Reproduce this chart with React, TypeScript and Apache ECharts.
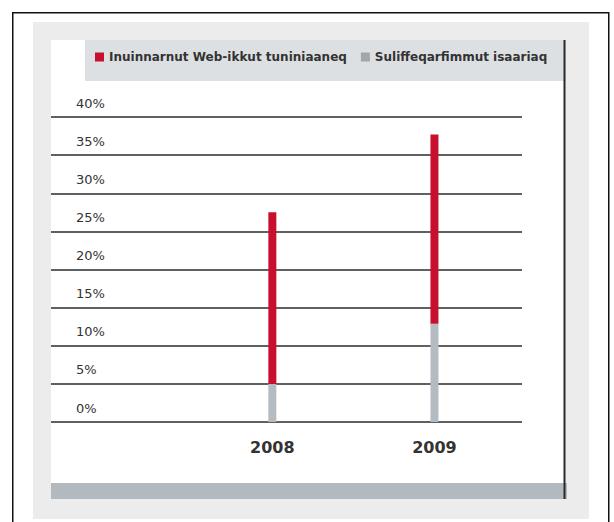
import React, { useEffect, useRef } from 'react';
import * as echarts from 'echarts';

const years = ['2008', '2009'];
const seriesNames = ['Inuinnarnut Web-ikkut tuniniaaneq', 'Suliffeqarfimmut isaariaq'];
const webValues = [22.5, 24.8];
const companyValues = [5, 12.9];
const yMin = 0;
const yMax = 40;
const yStep = 5;

const RED = '#c8102e';
const BAR_GRAY = '#b4bbc1';
const LEGEND_GRAY = '#a3a5a7';

export default function App() {
  const ref = useRef<HTMLDivElement>(null);
  useEffect(() => {
    if (!ref.current) return;
    const chart = echarts.init(ref.current, null, { renderer: 'svg' });
    const option: any = {
      animation: false,
      backgroundColor: '#ffffff',
      graphic: [
        { type: 'rect', z: -100, shape: { x: 12.75, y: 12.75, width: 596, height: 520 }, style: { fill: '#ffffff', stroke: '#111', lineWidth: 1.5 } },
        { type: 'rect', z: -99, shape: { x: 33, y: 22, width: 556, height: 497 }, style: { fill: '#ebeceb' } },
        { type: 'rect', z: -98, shape: { x: 51, y: 40, width: 514, height: 443 }, style: { fill: '#ffffff' } },
        { type: 'rect', z: -97, shape: { x: 85, y: 40, width: 481, height: 41 }, style: { fill: '#dde0e3' } },
        { type: 'rect', z: -97, shape: { x: 51, y: 483, width: 516, height: 16 }, style: { fill: '#b2b9bf' } },
        { type: 'line', z: -96, shape: { x1: 564.5, y1: 40, x2: 564.5, y2: 499 }, style: { stroke: '#2a2a2a', lineWidth: 2 } },
      ],
      legend: {
        left: 95,
        top: 51,
        padding: 0,
        itemWidth: 9,
        itemHeight: 9,
        itemGap: 14,
        icon: 'rect',
        data: [
          { name: seriesNames[0], itemStyle: { color: RED } },
          { name: seriesNames[1], itemStyle: { color: LEGEND_GRAY } },
        ],
        textStyle: { fontFamily: 'DejaVu Sans', fontWeight: 'bold', fontSize: 12, color: '#333' },
      },
      grid: [
        { left: 51, right: 92, top: 117, bottom: 100 },
        { left: 191.3, right: 98.5, top: 117, bottom: 100 },
      ],
      xAxis: [
        {
          gridIndex: 0,
          type: 'value',
          min: 0,
          max: 1,
          show: false,
        },
        {
          gridIndex: 1,
          type: 'category',
          data: years,
          axisLine: { show: false },
          axisTick: { show: false },
          splitLine: { show: false },
          axisLabel: {
            margin: 17,
            fontFamily: 'DejaVu Sans',
            fontWeight: 'bold',
            fontSize: 16,
            color: '#333',
          },
        },
      ],
      yAxis: [
        {
          gridIndex: 0,
          type: 'value',
          min: yMin,
          max: yMax,
          interval: yStep,
          axisLine: { show: false },
          axisTick: { show: false },
          splitLine: { show: true, lineStyle: { color: '#2b2b2b', width: 1.5 } },
          axisLabel: {
            inside: true,
            margin: 25,
            verticalAlign: 'bottom',
            lineHeight: 14,
            padding: [0, 0, 7, 0],
            fontFamily: 'DejaVu Sans',
            fontSize: 13,
            color: '#333',
            formatter: '{value}%',
          },
        },
        {
          gridIndex: 1,
          type: 'value',
          min: yMin,
          max: yMax,
          interval: yStep,
          show: false,
          splitLine: { show: false },
        },
      ],
      series: [
        {
          name: seriesNames[1],
          type: 'bar',
          stack: 'total',
          xAxisIndex: 1,
          yAxisIndex: 1,
          barWidth: 8,
          itemStyle: { color: BAR_GRAY },
          data: companyValues,
        },
        {
          name: seriesNames[0],
          type: 'bar',
          stack: 'total',
          xAxisIndex: 1,
          yAxisIndex: 1,
          barWidth: 8,
          itemStyle: { color: RED },
          data: webValues,
        },
      ],
    };
    chart.setOption(option);
    return () => chart.dispose();
  }, []);
  return <div ref={ref} style={{ position: 'fixed', left: 0, top: 0, width: 614, height: 522 }} />;
}
